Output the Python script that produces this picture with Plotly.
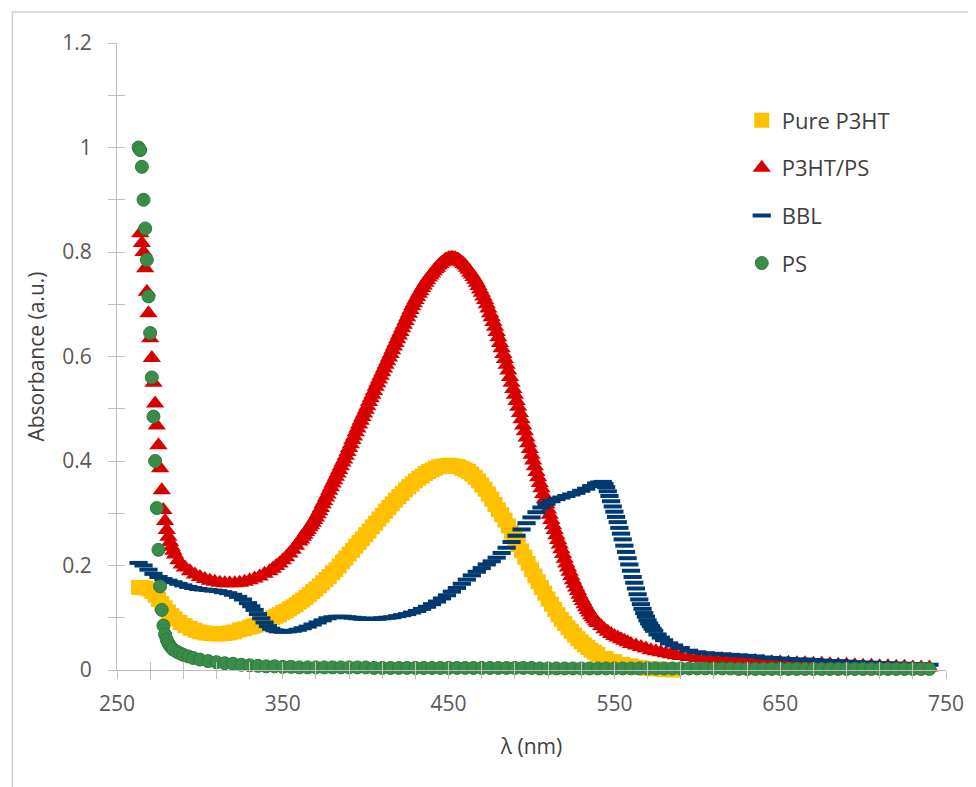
import plotly.graph_objects as go

# ---------------- data ----------------
p3ht_nm = [263, 265, 267, 269, 271, 273, 275, 277, 279, 281, 283, 285, 288, 291, 294, 297, 300, 303, 306, 309,
           312, 315, 318, 321, 324, 327,
           330, 332, 334, 336, 338, 340, 342, 344, 346, 348, 350, 352, 354, 356, 358, 360, 362, 364, 366, 368,
           370, 372, 374, 376, 378, 380, 382, 384, 386, 388, 390, 392, 394, 396, 398, 400, 402, 404, 406, 408,
           410, 412, 414, 416, 418, 420, 422, 424, 426, 428, 430, 432, 434, 436, 438, 440, 442, 444, 446, 448,
           450, 452, 454, 456, 458, 460, 462, 464, 466, 468, 470, 472, 474, 476, 478, 480, 482, 484, 486, 488,
           490, 492, 494, 496, 498, 500, 502, 504, 506, 508, 510, 512, 514, 516, 518, 520, 522, 524, 526, 528,
           530, 532, 534, 536, 538, 540,
           545, 550, 555, 560, 565, 570, 575, 580, 585, 590, 595, 600, 605, 610, 615, 620, 625, 630, 635, 640,
           645, 650, 655, 660, 665, 670, 675, 680, 685, 690, 695, 700, 705, 710, 715, 720, 725, 730, 735, 740]
p3ht_abs = [0.158, 0.158, 0.157, 0.155, 0.150, 0.143, 0.135, 0.127, 0.119, 0.111, 0.104, 0.098, 0.091, 0.085,
            0.080, 0.076, 0.073, 0.071, 0.070, 0.069, 0.069, 0.070, 0.071, 0.073, 0.077, 0.079,
            0.082, 0.084, 0.086, 0.088, 0.091, 0.094, 0.097, 0.100, 0.103, 0.106, 0.110, 0.113, 0.117, 0.121,
            0.125, 0.130, 0.134, 0.139, 0.144, 0.150, 0.155, 0.161, 0.167, 0.173, 0.179, 0.186, 0.192, 0.199,
            0.207, 0.214, 0.222, 0.229, 0.237, 0.244, 0.251, 0.259, 0.266, 0.274, 0.281, 0.289, 0.296, 0.304,
            0.311, 0.318, 0.325, 0.332, 0.338, 0.345, 0.351, 0.356, 0.362, 0.367, 0.371, 0.376, 0.380, 0.383,
            0.386, 0.389, 0.390, 0.391, 0.392, 0.391, 0.390, 0.389, 0.386, 0.383, 0.380, 0.375, 0.369, 0.362,
            0.354, 0.346, 0.337, 0.327, 0.317, 0.307, 0.297, 0.287, 0.276, 0.264, 0.252, 0.240, 0.228, 0.216,
            0.204, 0.192, 0.180, 0.169, 0.158, 0.147, 0.136, 0.126, 0.116, 0.106, 0.097, 0.089, 0.081, 0.074,
            0.067, 0.060, 0.054, 0.048, 0.043, 0.038, 0.034, 0.030,
            0.022, 0.016, 0.011, 0.008, 0.005, 0.003, 0.002, 0.001, 0.000, -0.001, -0.002, -0.002, -0.002,
            -0.002, -0.002, -0.002, -0.002, -0.002, -0.002, -0.002, -0.002, -0.002, -0.002, -0.002, -0.002,
            -0.002, -0.002, -0.002, -0.002, -0.002, -0.002, -0.002, -0.002, -0.002, -0.002, -0.002, -0.002,
            -0.002, -0.002, -0.002]

blend_nm = [264, 265, 266, 267, 268, 269, 270, 271, 272, 273, 274, 275, 276, 277, 278, 279, 280, 281, 282, 283,
            284, 285, 287, 289, 291, 294, 297,
            300, 303, 306, 309, 312, 315, 318, 321, 324, 327, 330, 333, 336, 339, 342, 344,
            346, 348, 350, 352, 354, 356, 358,
            360, 361, 362, 363, 364, 365, 366, 367, 368, 369, 370, 371, 372, 373, 374, 375, 376, 377, 378, 379,
            380, 381, 382, 383, 384, 385, 386, 387, 388, 389, 390, 391, 392, 393, 394, 395, 396, 397, 398, 399,
            400, 401, 402, 403, 404, 405, 406, 407, 408, 409, 410, 411, 412, 413, 414, 415, 416, 417, 418, 419,
            420, 421, 422, 423, 424, 425, 426, 427, 428, 429, 430, 431, 432, 433, 434, 435, 436, 437, 438, 439,
            440, 441, 442, 443, 444, 445, 446, 447, 448, 449, 450, 451, 452, 453, 454, 455, 456, 457, 458, 459,
            460, 461, 462, 463, 464, 465, 466, 467, 468, 469, 470, 471, 472, 473, 474, 475, 476, 477, 478, 479,
            480, 481, 482, 483, 484, 485, 486, 487, 488, 489, 490, 491, 492, 493, 494, 495, 496, 497, 498, 499,
            500, 501, 502, 503, 504, 505, 506, 507, 508, 509, 510, 511, 512, 513, 514, 515, 516, 517, 518, 519,
            520, 521, 522, 523, 524, 525, 526, 527, 528, 529, 530, 531, 532, 533, 534, 535, 536, 537, 538, 539,
            540, 542, 544, 546, 548, 550, 552, 554, 556, 558, 560, 563, 566, 569, 572, 575, 578, 581, 584, 587,
            590, 595, 600, 605, 610, 615, 620, 625, 630, 635, 640, 645, 650, 655, 660, 665, 670, 675, 680, 685,
            690, 695, 700, 705, 710, 715, 720, 725, 730, 735, 740]
blend_abs = [0.836, 0.817, 0.800, 0.769, 0.724, 0.683, 0.635, 0.597, 0.550, 0.510, 0.468, 0.430, 0.386, 0.344,
             0.306, 0.285, 0.268, 0.255, 0.245, 0.236, 0.228, 0.221, 0.210, 0.202, 0.196, 0.189, 0.183,
             0.178, 0.174, 0.171, 0.169, 0.167, 0.166, 0.166, 0.166, 0.167, 0.169, 0.172, 0.175, 0.179, 0.184,
             0.189, 0.194,
             0.199, 0.204, 0.210, 0.216, 0.223, 0.230, 0.238,
             0.246, 0.250, 0.255, 0.259, 0.264, 0.268, 0.273, 0.277, 0.282, 0.287,
             0.292, 0.298, 0.304, 0.310, 0.317, 0.323, 0.330, 0.336, 0.343, 0.350,
             0.357, 0.363, 0.370, 0.376, 0.383, 0.390, 0.397, 0.403, 0.410, 0.417,
             0.425, 0.432, 0.440, 0.447, 0.455, 0.462, 0.470, 0.477, 0.484, 0.491,
             0.498, 0.505, 0.513, 0.520, 0.527, 0.534, 0.542, 0.549, 0.556, 0.563,
             0.570, 0.577, 0.584, 0.591, 0.598, 0.605, 0.612, 0.619, 0.626, 0.633,
             0.640, 0.647, 0.654, 0.661, 0.668, 0.675, 0.682, 0.689, 0.696, 0.702,
             0.708, 0.714, 0.720, 0.725, 0.731, 0.736, 0.741, 0.746, 0.751, 0.755,
             0.759, 0.763, 0.767, 0.770, 0.774, 0.777, 0.780, 0.782, 0.785, 0.786,
             0.788, 0.788, 0.789, 0.788, 0.788, 0.786, 0.785, 0.782, 0.780, 0.777,
             0.774, 0.770, 0.766, 0.761, 0.757, 0.752, 0.747, 0.741, 0.735, 0.728,
             0.722, 0.715, 0.708, 0.700, 0.692, 0.683, 0.675, 0.666, 0.657, 0.647,
             0.637, 0.626, 0.616, 0.605, 0.595, 0.584, 0.573, 0.561, 0.550, 0.538,
             0.527, 0.515, 0.504, 0.492, 0.480, 0.468, 0.457, 0.445, 0.434, 0.423,
             0.412, 0.401, 0.390, 0.379, 0.369, 0.358, 0.348, 0.337, 0.327, 0.317,
             0.307, 0.297, 0.287, 0.277, 0.268, 0.258, 0.249, 0.240, 0.231, 0.222,
             0.213, 0.204, 0.196, 0.188, 0.180, 0.172, 0.165, 0.158, 0.151, 0.144,
             0.138, 0.132, 0.126, 0.120, 0.115, 0.110, 0.105, 0.101, 0.097, 0.093,
             0.090, 0.084, 0.078, 0.073, 0.069, 0.065, 0.062, 0.059, 0.056, 0.053, 0.050, 0.047, 0.044, 0.041,
             0.038, 0.036, 0.034, 0.032, 0.030, 0.028,
             0.027, 0.025, 0.023, 0.022, 0.021, 0.020, 0.019, 0.018, 0.017, 0.017, 0.016, 0.015, 0.015, 0.014,
             0.013, 0.013, 0.012, 0.012, 0.011, 0.010, 0.010, 0.009, 0.008, 0.008, 0.007, 0.007, 0.006, 0.006,
             0.005, 0.005, 0.005]

bbl_nm = [263, 266, 269, 272, 275, 278, 281, 284, 287, 290, 293, 296, 299, 302, 305, 308, 311, 314, 317, 320,
          323, 326, 329, 331, 333, 335, 337, 339, 341, 343, 345, 347, 350, 353, 356, 359, 362, 365, 368, 371,
          374, 377, 380, 383, 386, 389, 392, 395, 398, 401, 404, 407, 410, 413, 416, 419, 422, 425, 428, 431,
          434, 437, 440, 443, 446, 449, 452, 455, 458, 461, 464, 467, 470, 473, 476, 479, 482, 485, 488, 491,
          494, 497, 500, 503, 506, 509, 512, 515, 518, 521, 524, 527, 530, 533, 536, 539, 541, 543, 544, 545,
          546, 547, 548, 549, 550, 551, 552, 553, 554, 555, 556, 557, 558, 559, 560, 561, 562, 563, 564, 565,
          566, 567, 568, 569, 570, 571, 572, 573, 574, 576, 578, 580, 583, 586, 590, 595, 600, 605, 610, 615,
          620, 625, 630, 635, 640, 645, 650, 655, 660, 665, 670, 675, 680, 685, 690, 695, 700, 705, 710, 715,
          720, 725, 730, 735, 740]
bbl_abs = [0.205, 0.200, 0.192, 0.184, 0.178, 0.174, 0.171, 0.168, 0.165, 0.162, 0.159, 0.157, 0.155, 0.154,
           0.153, 0.152, 0.151, 0.149, 0.147, 0.144, 0.140, 0.135, 0.128, 0.122, 0.115, 0.107, 0.099, 0.091,
           0.084, 0.079, 0.076, 0.074, 0.073, 0.074, 0.075, 0.077, 0.080, 0.083, 0.087, 0.091, 0.095, 0.099,
           0.101, 0.102, 0.102, 0.101, 0.100, 0.099, 0.098, 0.098, 0.098, 0.098, 0.099, 0.100, 0.101, 0.103,
           0.105, 0.107, 0.110, 0.113, 0.117, 0.121, 0.126, 0.131, 0.137, 0.143, 0.150, 0.157, 0.165, 0.173,
           0.181, 0.188, 0.195, 0.202, 0.208, 0.215, 0.224, 0.234, 0.245, 0.257, 0.269, 0.281, 0.292, 0.302,
           0.311, 0.318, 0.323, 0.327, 0.330, 0.333, 0.336, 0.339, 0.343, 0.347, 0.352, 0.357, 0.359, 0.360,
           0.356, 0.350, 0.342, 0.333, 0.323, 0.313, 0.303, 0.293, 0.283, 0.272, 0.261, 0.250, 0.238, 0.226,
           0.214, 0.202, 0.190, 0.178, 0.167, 0.156, 0.145, 0.135, 0.126, 0.117, 0.109, 0.102, 0.095, 0.089,
           0.084, 0.079, 0.075, 0.068, 0.062, 0.057, 0.051, 0.047, 0.042, 0.037, 0.034, 0.032, 0.031, 0.030,
           0.029, 0.028, 0.027, 0.026, 0.024, 0.023, 0.022, 0.021, 0.020, 0.020, 0.019, 0.018, 0.017, 0.017,
           0.016, 0.015, 0.014, 0.014, 0.013, 0.013, 0.012, 0.012, 0.011, 0.011, 0.010]

ps_nm = [263, 264, 265, 266, 267, 268, 269, 270, 271, 272, 273, 274, 275, 276, 277, 278, 279, 280, 281, 282,
         283, 284, 286, 288, 290, 293, 296, 300, 305, 310, 315, 320, 325, 330, 335, 340, 345, 350, 355, 360,
         365, 370, 375, 380, 385, 390, 395, 400, 405, 410, 415, 420, 425, 430, 435, 440, 445, 450, 455, 460,
         465, 470, 475, 480, 485, 490, 495, 500, 505, 510, 515, 520, 525, 530, 535, 540, 545, 550, 555, 560,
         565, 570, 575, 580, 585, 590, 595, 600, 605, 610, 615, 620, 625, 630, 635, 640, 645, 650, 655, 660,
         665, 670, 675, 680, 685, 690, 695, 700, 705, 710, 715, 720, 725, 730, 735, 740]
ps_abs = [1.000, 0.995, 0.963, 0.900, 0.845, 0.785, 0.715, 0.645, 0.560, 0.485, 0.400, 0.310, 0.230, 0.160,
          0.115, 0.085, 0.068, 0.058, 0.051, 0.046, 0.042, 0.039, 0.035, 0.032, 0.029, 0.026, 0.023, 0.020,
          0.017, 0.015, 0.013, 0.012, 0.010, 0.009, 0.008, 0.007, 0.007, 0.006, 0.006, 0.005, 0.005, 0.005,
          0.005, 0.005, 0.005, 0.005, 0.005, 0.005, 0.004, 0.004, 0.004, 0.004, 0.004, 0.004, 0.004, 0.004,
          0.004, 0.004, 0.004, 0.004, 0.004, 0.004, 0.004, 0.004, 0.004, 0.004, 0.004, 0.004, 0.003, 0.003,
          0.003, 0.003, 0.003, 0.003, 0.003, 0.003, 0.003, 0.003, 0.003, 0.003, 0.003, 0.003, 0.003, 0.003,
          0.003, 0.003, 0.003, 0.003, 0.003, 0.003, 0.003, 0.003, 0.002, 0.002, 0.002, 0.002, 0.002, 0.002,
          0.002, 0.002, 0.002, 0.002, 0.002, 0.002, 0.002, 0.002, 0.002, 0.002, 0.002, 0.002, 0.002, 0.002,
          0.002, 0.002, 0.002, 0.002]

series_names = ["Pure P3HT", "P3HT/PS", "BBL", "PS"]
x_ticks = [250, 350, 450, 550, 650, 750]
y_ticks = [0, 0.2, 0.4, 0.6, 0.8, 1, 1.2]
y_ticktext = ["0", "0.2", "0.4", "0.6", "0.8", "1", "1.2"]

# ---------------- styling ----------------
FONT = "Open Sans"
AXIS_GRAY = "#BFBFBF"
TICK_TXT = "#595959"
TITLE_TXT = "#404040"

fig = go.Figure()

fig.add_trace(go.Scatter(
    x=p3ht_nm, y=p3ht_abs, name=series_names[0], mode="markers", legendgroup="a",
    marker=dict(symbol="square", size=15, color="#FFC000", line=dict(width=0)), cliponaxis=False))
fig.add_trace(go.Scatter(
    x=blend_nm, y=blend_abs, name=series_names[1], mode="markers", legendgroup="b",
    marker=dict(symbol="triangle-up", size=16, color="#D90000", line=dict(width=0)), cliponaxis=False))
fig.add_trace(go.Scatter(
    x=bbl_nm, y=bbl_abs, name=series_names[2], mode="markers", legendgroup="c",
    marker=dict(symbol="line-ew", size=13, color="#003A70", line=dict(width=4, color="#003A70")),
    cliponaxis=False))
fig.add_trace(go.Scatter(
    x=ps_nm, y=ps_abs, name=series_names[3], mode="markers", legendgroup="d",
    marker=dict(symbol="circle", size=13, color="#3B8C4A", line=dict(width=1, color="#2F7A3D")),
    cliponaxis=False))

# invisible helper trace for the overlay axes that draw the inner half of the crossing ticks
fig.add_trace(go.Scatter(x=[None], y=[None], xaxis="x2", yaxis="y2", showlegend=False, hoverinfo="skip"))

fig.update_layout(
    width=968, height=779,
    margin=dict(l=109, r=27, t=35, b=117),
    paper_bgcolor="white", plot_bgcolor="white",
    font=dict(family=FONT, color=TICK_TXT),
    xaxis=dict(
        range=[250, 750], tickmode="array", tickvals=x_ticks, ticktext=[str(v) for v in x_ticks],
        ticks="outside", ticklen=8, tickcolor=AXIS_GRAY, tickwidth=1,
        minor=dict(ticks="outside", ticklen=8, tickcolor=AXIS_GRAY, dtick=20, tick0=250),
        showline=True, linecolor=AXIS_GRAY, linewidth=1, showgrid=False, zeroline=False,
        tickfont=dict(size=21, color=TICK_TXT, family=FONT), ticklabelstandoff=7,
        title=dict(text="λ (nm)", font=dict(size=21, color=TITLE_TXT, family=FONT), standoff=23),
    ),
    yaxis=dict(
        range=[0, 1.2], tickmode="array", tickvals=y_ticks, ticktext=y_ticktext,
        ticks="outside", ticklen=8, tickcolor=AXIS_GRAY, tickwidth=1,
        minor=dict(ticks="outside", ticklen=8, tickcolor=AXIS_GRAY, dtick=0.1, tick0=0),
        showline=True, linecolor=AXIS_GRAY, linewidth=1, showgrid=False, zeroline=False,
        tickfont=dict(size=21, color=TICK_TXT, family=FONT), ticklabelstandoff=12,
        title=dict(text="Absorbance (a.u.)", font=dict(size=21, color=TITLE_TXT, family=FONT), standoff=11),
    ),
    xaxis2=dict(
        overlaying="x", anchor="y", side="bottom", range=[250, 750], dtick=20, tick0=250,
        ticks="inside", ticklen=8, tickcolor=AXIS_GRAY, showticklabels=False,
        showline=False, showgrid=False, zeroline=False,
    ),
    yaxis2=dict(
        overlaying="y", anchor="x", side="left", range=[0, 1.2], dtick=0.1, tick0=0,
        ticks="inside", ticklen=8, tickcolor=AXIS_GRAY, showticklabels=False,
        showline=False, showgrid=False, zeroline=False,
    ),
    legend=dict(
        x=0.7536, y=0.910, xanchor="left", yanchor="top",
        bgcolor="rgba(0,0,0,0)", font=dict(size=22, color=TITLE_TXT, family=FONT),
        tracegroupgap=16, itemsizing="trace",
    ),
    showlegend=True,
    shapes=[dict(type="rect", xref="paper", yref="paper", x0=-0.1262, x1=1.08, y0=-0.3, y1=1.0494,
                 line=dict(color="#D0D0D0", width=1.5), fillcolor="rgba(0,0,0,0)", layer="below")],
)

fig.write_html("out.html")
